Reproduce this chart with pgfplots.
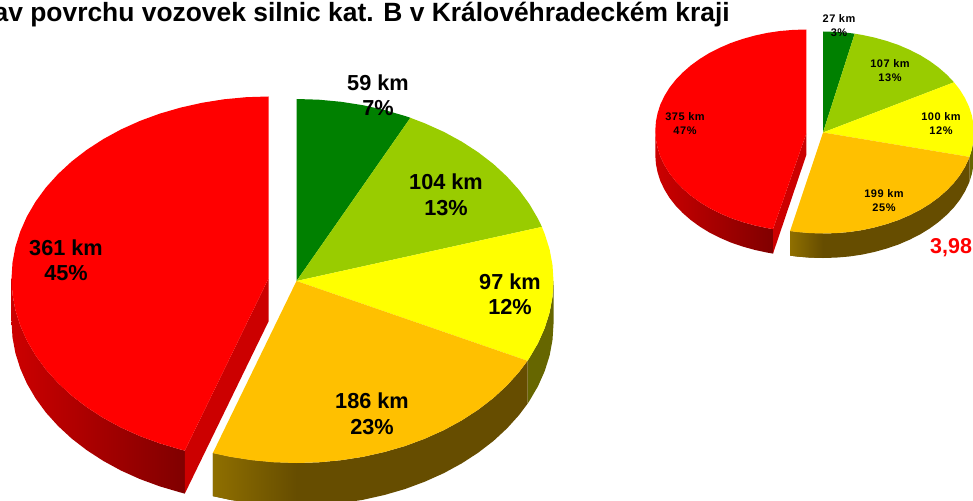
\documentclass[border=0pt]{standalone}
\usepackage{fontspec}
\setmainfont{Liberation Sans}
\usepackage{pgfplots}
\pgfplotsset{compat=1.18}
\definecolor{cgreen}{HTML}{008000}
\definecolor{clime}{HTML}{99CC00}
\definecolor{cyellow}{HTML}{FFFF00}
\definecolor{corange}{HTML}{FFC000}
\definecolor{cred}{HTML}{FF0000}
\definecolor{sideyellow}{HTML}{666600}
\definecolor{sideorange}{HTML}{664D00}
\definecolor{sideorangeL}{HTML}{8F6F00}
\definecolor{sidered}{HTML}{CC0000}
\definecolor{sideredD}{HTML}{800000}
\newcommand{\bigfont}{\fontsize{21.7}{25.5}\selectfont\bfseries}
\newcommand{\smallfont}{\fontsize{11}{14}\selectfont\bfseries\addfontfeature{LetterSpace=5}}
\begin{document}
\begin{tikzpicture}
\path[use as bounding box, clip] (0,0) rectangle (973pt,500pt);
\begin{axis}[
    at={(0,0)}, anchor=south west,
    width=973pt, height=500pt, scale only axis,
    xmin=0, xmax=973, ymin=0, ymax=500,
    y dir=reverse, hide axis, clip=false,
    slice/.style={draw=none, mark=none}
]
% ---- big pie, sides
\addplot[slice, fill=sideyellow] coordinates {
 (553.5,281) (552.5,296.9) (549.6,312.6) (544.7,328.1) (538.0,343.2) (529.4,357.9) (527.5,360.8)
 (527.5,403.8) (529.4,400.9) (538.0,386.2) (544.7,371.1) (549.6,355.6) (552.5,339.9) (553.5,324)
} -- cycle;
\addplot[slice, fill=sideorange] coordinates {
 (527.5,360.8) (519.1,372) (507.0,385.4) (493.4,398) (478.2,409.7) (461.7,420.4) (443.9,430.1)
 (425.0,438.6) (405.1,446) (384.4,452) (363.0,456.8) (341.1,460.2) (318.9,462.3) (296.5,463)
 (274.1,462.3) (251.9,460.2) (230.0,456.8) (212.8,453.1)
 (212.8,496.1) (230.0,499.8) (251.9,503.2) (274.1,505.3) (296.5,506) (318.9,505.3) (341.1,503.2)
 (363.0,499.8) (384.4,495) (405.1,489) (425.0,481.6) (443.9,473.1) (461.7,463.4) (478.2,452.7)
 (493.4,441) (507.0,428.4) (519.1,415) (527.5,403.8)
} -- cycle;
\addplot[slice, shade, left color=sideorangeL, right color=sideorange] coordinates {
 (296.5,463) (274.1,462.3) (251.9,460.2) (230.0,456.8) (212.8,453.1)
 (212.8,496.1) (230.0,499.8) (251.9,503.2) (274.1,505.3) (296.5,506)
} -- cycle;
\addplot[slice, shade, left color=sidered, right color=sideredD] coordinates {
 (11.5,278.5) (12.5,294.4) (15.4,310.1) (20.3,325.6) (27.0,340.7) (35.6,355.4) (45.9,369.5)
 (58.0,382.9) (71.6,395.5) (86.8,407.2) (103.3,417.9) (121.1,427.6) (140.0,436.1) (159.9,443.4)
 (180.6,449.5) (184.8,450.6)
 (184.8,493.6) (180.6,492.5) (159.9,486.4) (140.0,479.1) (121.1,470.6) (103.3,460.9) (86.8,450.2)
 (71.6,438.5) (58.0,425.9) (45.9,412.5) (35.6,398.4) (27.0,383.7) (20.3,368.6) (15.4,353.1)
 (12.5,337.4) (11.5,321.5)
} -- cycle;
\addplot[slice, fill=sidered] coordinates {
 (268.5,278.5) (184.8,450.6) (184.8,493.6) (268.5,321.5)
} -- cycle;
% ---- big pie, top
\addplot[slice, fill=cgreen] coordinates {
 (296.5,281) (296.5,99) (318.9,99.7) (341.1,101.8) (363.0,105.2) (384.4,110.0) (405.1,116.0) (410.4,117.8)
} -- cycle;
\addplot[slice, fill=clime] coordinates {
 (296.5,281) (410.4,117.8) (425.0,123.4) (443.9,131.9) (461.7,141.6) (478.2,152.3) (493.4,164.0)
 (507.0,176.6) (519.1,190) (529.4,204.1) (538.0,218.8) (541.9,226.9)
} -- cycle;
\addplot[slice, fill=cyellow] coordinates {
 (296.5,281) (541.9,226.9) (544.7,233.9) (549.6,249.4) (552.5,265.1) (553.5,281) (552.5,296.9)
 (549.6,312.6) (544.7,328.1) (538.0,343.2) (529.4,357.9) (527.5,360.8)
} -- cycle;
\addplot[slice, fill=corange] coordinates {
 (296.5,281) (527.5,360.8) (519.1,372) (507.0,385.4) (493.4,398) (478.2,409.7) (461.7,420.4)
 (443.9,430.1) (425.0,438.6) (405.1,446) (384.4,452) (363.0,456.8) (341.1,460.2) (318.9,462.3)
 (296.5,463) (274.1,462.3) (251.9,460.2) (230.0,456.8) (212.8,453.1)
} -- cycle;
\addplot[slice, fill=cred] coordinates {
 (268.5,278.5) (184.8,450.6) (180.6,449.5) (159.9,443.4) (140.0,436.1) (121.1,427.6) (103.3,417.9)
 (86.8,407.2) (71.6,395.5) (58.0,382.9) (45.9,369.5) (35.6,355.4) (27.0,340.7) (20.3,325.6)
 (15.4,310.1) (12.5,294.4) (11.5,278.5) (12.5,262.6) (15.4,246.9) (20.3,231.4) (27.0,216.3)
 (35.6,201.6) (45.9,187.5) (58.0,174.1) (71.6,161.5) (86.8,149.8) (103.3,139.1) (121.1,129.4)
 (140.0,120.9) (159.9,113.6) (180.6,107.6) (202.0,102.8) (223.9,99.3) (246.1,97.2) (268.5,96.5)
} -- cycle;
% ---- small pie, sides
\addplot[slice, fill=sideyellow] coordinates {
 (974,132.5) (973.4,141.3) (971.7,150) (969.5,156.9) (969.5,181.4) (971.7,174.5) (973.4,165.8) (974,157)
} -- cycle;
\addplot[slice, fill=sideorange] coordinates {
 (969.5,156.9) (968.9,158.6) (964.9,167) (959.9,175.2) (953.8,183) (946.7,190.4) (938.7,197.4)
 (929.8,203.9) (920.1,209.9) (909.6,215.2) (898.5,220) (886.8,224) (874.6,227.4) (862.1,230.1)
 (849.2,232) (836.2,233.1) (823,233.5) (809.8,233.1) (796.8,232) (790.1,231.1)
 (790.1,255.6) (796.8,256.5) (809.8,257.6) (823,258) (836.2,257.6) (849.2,256.5) (862.1,254.6)
 (874.6,251.9) (886.8,248.5) (898.5,244.5) (909.6,239.7) (920.1,234.4) (929.8,228.4) (938.7,221.9)
 (946.7,214.9) (953.8,207.5) (959.9,199.7) (964.9,191.5) (968.9,183.1) (969.5,181.4)
} -- cycle;
\addplot[slice, shade, left color=sideorangeL, right color=sideorange] coordinates {
 (823,233.5) (809.8,233.1) (796.8,232) (790.1,231.1) (790.1,255.6) (796.8,256.5) (809.8,257.6) (823,258)
} -- cycle;
\addplot[slice, shade, left color=sidered, right color=sideredD] coordinates {
 (655.3,130.5) (655.9,139.3) (657.6,148) (660.4,156.6) (664.4,165) (669.4,173.2) (675.5,181)
 (682.6,188.4) (690.6,195.4) (699.5,201.9) (709.2,207.9) (719.7,213.2) (730.8,218) (742.5,222)
 (754.7,225.4) (767.2,228.1) (773,229.1)
 (773,253.6) (767.2,252.6) (754.7,249.9) (742.5,246.5) (730.8,242.5) (719.7,237.7) (709.2,232.4)
 (699.5,226.4) (690.6,219.9) (682.6,212.9) (675.5,205.5) (669.4,197.7) (664.4,189.5) (660.4,181.1)
 (657.6,172.5) (655.9,163.8) (655.3,155)
} -- cycle;
\addplot[slice, fill=sidered] coordinates {
 (806.3,133.5) (773,229.1) (773,253.6) (806.3,155)
} -- cycle;
% ---- small pie, top
\addplot[slice, fill=cgreen] coordinates {
 (823,132.5) (823,31.5) (836.2,31.9) (849.2,33.0) (854.7,33.7)
} -- cycle;
\addplot[slice, fill=clime] coordinates {
 (823,132.5) (854.7,33.7) (862.1,34.9) (874.6,37.6) (886.8,41.0) (898.5,45.0) (909.6,49.8)
 (920.1,55.1) (929.8,61.1) (938.7,67.6) (946.7,74.6) (954.0,82.3)
} -- cycle;
\addplot[slice, fill=cyellow] coordinates {
 (823,132.5) (954.0,82.3) (959.9,89.8) (964.9,98) (968.9,106.4) (971.7,115) (973.4,123.7) (974,132.5)
 (973.4,141.3) (971.7,150) (969.5,156.9)
} -- cycle;
\addplot[slice, fill=corange] coordinates {
 (823,132.5) (969.5,156.9) (968.9,158.6) (964.9,167) (959.9,175.2) (953.8,183) (946.7,190.4)
 (938.7,197.4) (929.8,203.9) (920.1,209.9) (909.6,215.2) (898.5,220) (886.8,224) (874.6,227.4)
 (862.1,230.1) (849.2,232) (836.2,233.1) (823,233.5) (809.8,233.1) (796.8,232) (790.1,231.1)
} -- cycle;
\addplot[slice, fill=cred] coordinates {
 (806.3,133.5) (773,229.1) (767.2,228.1) (754.7,225.4) (742.5,222) (730.8,218) (719.7,213.2)
 (709.2,207.9) (699.5,201.9) (690.6,195.4) (682.6,188.4) (675.5,181) (669.4,173.2) (664.4,165)
 (660.4,156.6) (657.6,148) (655.9,139.3) (655.3,130.5) (655.9,121.7) (657.6,113) (660.4,104.4)
 (664.4,96) (669.4,87.8) (675.5,80) (682.6,72.6) (690.6,65.6) (699.5,59.1) (709.2,53.1) (719.7,47.8)
 (730.8,43) (742.5,39) (754.7,35.6) (767.2,32.9) (780.1,31.0) (793.1,29.9) (806.3,29.5)
} -- cycle;
% ---- labels
\node[anchor=base east, inner sep=0pt, font=\fontsize{26.4}{30}\selectfont\bfseries] at (axis cs:730,22)
    {Stav povrchu vozovek silnic kat. B v Královéhradeckém kraji};
\node[align=center, font=\bigfont] at (axis cs:378,95) {59 km\\7\%};
\node[align=center, font=\bigfont] at (axis cs:446,195) {104 km\\13\%};
\node[align=center, font=\bigfont] at (axis cs:510,294) {97 km\\12\%};
\node[align=center, font=\bigfont] at (axis cs:372,414) {186 km\\23\%};
\node[align=center, font=\bigfont] at (axis cs:66,260) {361 km\\45\%};
\node[align=center, font=\smallfont] at (axis cs:839,26) {27 km\\3\%};
\node[align=center, font=\smallfont] at (axis cs:890,71) {107 km\\13\%};
\node[align=center, font=\smallfont] at (axis cs:941,124) {100 km\\12\%};
\node[align=center, font=\smallfont] at (axis cs:884,201) {199 km\\25\%};
\node[align=center, font=\smallfont] at (axis cs:685,124) {375 km\\47\%};
\node[anchor=base west, inner sep=0pt, text=cred, font=\fontsize{21.5}{25}\selectfont\bfseries] at (axis cs:930,253.5) {3,98};
\end{axis}
\end{tikzpicture}
\end{document}
